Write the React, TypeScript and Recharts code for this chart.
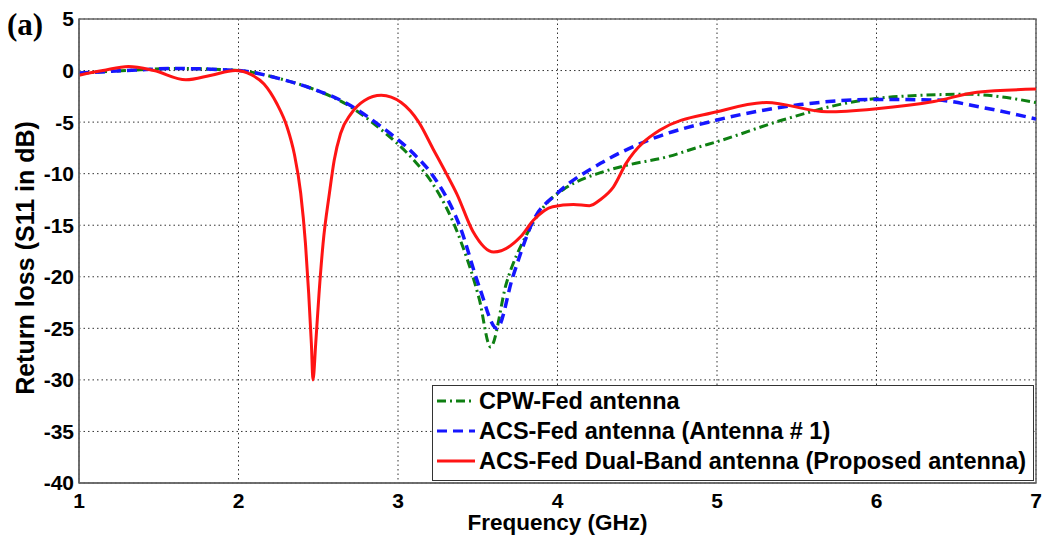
import React from 'react';
import { LineChart, Line, XAxis, YAxis, CartesianGrid, Legend, ReferenceArea } from 'recharts';

// Return loss (frequency in GHz, S11 in dB)
const cpwFreq = [1.0, 1.3, 1.6, 2.0, 2.26, 2.47, 2.68, 2.9, 3.1, 3.21, 3.39, 3.51, 3.58, 3.68, 3.81, 3.93, 4.06, 4.27, 4.43, 4.68, 4.89, 5.0, 5.41, 5.83, 6.15, 6.57, 7.0];
const cpwS11 = [-0.25, 0.0, 0.2, 0.0, -0.8, -1.8, -3.3, -5.8, -8.7, -10.8, -16.4, -22.2, -26.8, -20.6, -15.8, -12.9, -11.3, -9.9, -9.2, -8.4, -7.4, -6.9, -4.8, -3.1, -2.5, -2.3, -3.1];

const acsFreq = [1.0, 1.3, 1.6, 2.0, 2.26, 2.47, 2.68, 2.9, 3.1, 3.21, 3.39, 3.51, 3.62, 3.72, 3.85, 4.0, 4.27, 4.58, 5.0, 5.52, 6.0, 6.36, 6.67, 7.0];
const acsS11 = [-0.25, 0.0, 0.2, 0.0, -0.8, -1.8, -3.2, -5.5, -8.1, -10.0, -15.2, -21.0, -25.0, -20.0, -14.5, -11.9, -9.0, -6.7, -4.8, -3.3, -2.8, -2.85, -3.6, -4.7];

const dualFreq = [1.0, 1.15, 1.31, 1.47, 1.67, 1.83, 1.98, 2.08, 2.16, 2.24, 2.305, 2.35, 2.39, 2.42, 2.44, 2.457, 2.467, 2.484, 2.505, 2.53, 2.57, 2.6, 2.64, 2.705, 2.79, 2.895, 3.02, 3.13, 3.22, 3.3, 3.37, 3.47, 3.6, 3.77, 3.85, 3.97, 4.1, 4.2, 4.27, 4.35, 4.43, 4.64, 5.0, 5.31, 5.69, 6.0, 6.36, 6.63, 7.0];
const dualS11 = [-0.45, 0.0, 0.4, 0.0, -0.9, -0.45, 0.0, -0.4, -1.3, -3.2, -5.5, -8.1, -11.9, -16.8, -21.6, -26.5, -30.0, -26.5, -21.6, -16.8, -11.9, -8.7, -6.1, -4.2, -2.9, -2.4, -3.1, -5.0, -7.6, -9.9, -12.0, -15.6, -17.6, -16.1, -14.5, -13.2, -13.0, -13.1, -12.5, -11.3, -9.0, -5.8, -4.0, -3.1, -4.0, -3.7, -3.0, -2.1, -1.8];

const xTicks = [1, 2, 3, 4, 5, 6, 7];
const yTicks = [-40, -35, -30, -25, -20, -15, -10, -5, 0, 5];

const seriesNames = [
  'CPW-Fed antenna',
  'ACS-Fed antenna (Antenna # 1)',
  'ACS-Fed Dual-Band antenna (Proposed antenna)',
];

const toRows = (fs: number[], vs: number[]) => fs.map((f, i) => ({ f, s11: vs[i] }));

const cpwData = toRows(cpwFreq, cpwS11);
const acsData = toRows(acsFreq, acsS11);
const dualData = toRows(dualFreq, dualS11);

const styles = [
  { color: '#0e7f12', dash: '9 4 2 4', width: 3 },
  { color: '#1616ff', dash: '10 6', width: 3.5 },
  { color: '#ff1414', dash: undefined, width: 3 },
];

const font = '"Liberation Sans", Arial, sans-serif';

const LegendBox = () => (
  <div
    style={{
      boxSizing: 'border-box',
      width: '100%',
      height: '100%',
      border: '1.5px solid #333',
      background: '#fff',
      paddingLeft: 4,
      fontFamily: font,
      fontWeight: 'bold',
      fontSize: 23.5,
      color: '#000',
    }}
  >
    {seriesNames.map((name, i) => (
      <div key={name} style={{ display: 'flex', alignItems: 'center', height: 30, whiteSpace: 'nowrap' }}>
        <svg width={38} height={8} style={{ marginRight: 4 }}>
          <line x1={0} y1={4} x2={38} y2={4} stroke={styles[i].color} strokeWidth={3} strokeDasharray={styles[i].dash} />
        </svg>
        <span>{name}</span>
      </div>
    ))}
  </div>
);

const App: React.FC = () => {
  return (
    <div style={{ position: 'absolute', left: 0, top: 0, width: 1044, height: 541, background: '#fff' }}>
      <div
        style={{
          position: 'absolute',
          left: 7,
          top: 9,
          fontFamily: '"Liberation Serif", "Times New Roman", serif',
          fontWeight: 'bold',
          fontSize: 31,
          lineHeight: 1,
        }}
      >
        (a)
      </div>
      <div
        style={{
          position: 'absolute',
          left: 25 - 200,
          top: 258 - 15,
          width: 400,
          height: 30,
          lineHeight: '30px',
          textAlign: 'center',
          transform: 'rotate(-90deg)',
          fontFamily: font,
          fontWeight: 'bold',
          fontSize: 25,
          whiteSpace: 'nowrap',
        }}
      >
        Return loss (S11 in dB)
      </div>
      <LineChart width={1044} height={541} margin={{ top: 19, right: 8, bottom: 0, left: 0 }}>
        <CartesianGrid stroke="#333" strokeDasharray="1.5 3" />
        <XAxis
          type="number"
          dataKey="f"
          domain={[1, 7]}
          ticks={xTicks}
          allowDataOverflow
          height={58}
          tickLine={false}
          tickSize={8}
          tickMargin={2}
          axisLine={{ stroke: '#666', strokeWidth: 1.5 }}
          tick={{ fill: '#000', fontSize: 21, fontWeight: 'bold', fontFamily: font }}
          label={{
            value: 'Frequency (GHz)',
            position: 'insideBottom',
            offset: 11,
            style: { fill: '#000', fontSize: 22.5, fontWeight: 'bold', fontFamily: font },
          }}
        />
        <YAxis
          type="number"
          domain={[-40, 5]}
          ticks={yTicks}
          allowDataOverflow
          width={79}
          tickLine={false}
          tickSize={5}
          tickMargin={0}
          axisLine={{ stroke: '#666', strokeWidth: 1.5 }}
          tick={{ fill: '#000', fontSize: 21, fontWeight: 'bold', fontFamily: font }}
        />
        <ReferenceArea x1={1} x2={7} y1={-40} y2={5} fill="none" stroke="#666" strokeWidth={1.5} />
        <Line data={cpwData} dataKey="s11" name={seriesNames[0]} type="monotone" stroke={styles[0].color} strokeWidth={styles[0].width} strokeDasharray={styles[0].dash} dot={false} isAnimationActive={false} />
        <Line data={acsData} dataKey="s11" name={seriesNames[1]} type="monotone" stroke={styles[1].color} strokeWidth={styles[1].width} strokeDasharray={styles[1].dash} dot={false} isAnimationActive={false} />
        <Line data={dualData} dataKey="s11" name={seriesNames[2]} type="monotone" stroke={styles[2].color} strokeWidth={styles[2].width} dot={false} isAnimationActive={false} />
        <Legend
          layout="vertical"
          align="center"
          verticalAlign="middle"
          content={() => <LegendBox />}
          wrapperStyle={{ position: 'absolute', left: 432, top: 385, width: 602, height: 96 }}
        />
      </LineChart>
    </div>
  );
};

export default App;
